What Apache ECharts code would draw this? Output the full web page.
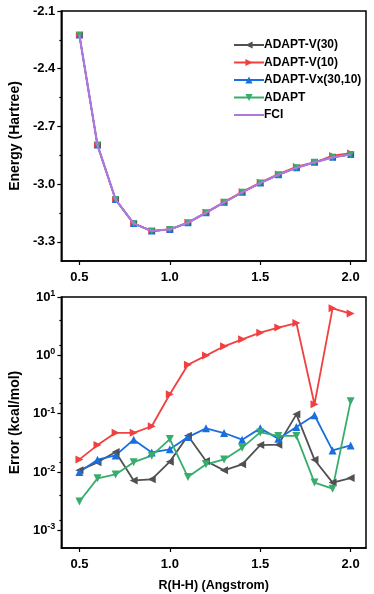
<!DOCTYPE html>
<html>
<head>
<meta charset="utf-8">
<script src="https://cdn.jsdelivr.net/npm/echarts@6.0.0/dist/echarts.min.js"></script>
<style>
html,body{margin:0;padding:0;background:#fff;}
#chart{width:374px;height:594px;}
</style>
</head>
<body>
<div id="chart"></div>
<script>
// ---- data ----
var distances = [0.5,0.6,0.7,0.8,0.9,1.0,1.1,1.2,1.3,1.4,1.5,1.6,1.7,1.8,1.9,2.0];
var seriesNames = ['ADAPT-V(30)','ADAPT-V(10)','ADAPT-Vx(30,10)','ADAPT','FCI'];

// energies (Hartree)
var energyV30  = [-2.225,-2.797,-3.080,-3.205,-3.244,-3.236,-3.201,-3.149,-3.095,-3.043,-2.995,-2.952,-2.915,-2.887,-2.861,-2.846];
var energyV10  = [-2.225,-2.797,-3.080,-3.205,-3.244,-3.236,-3.200,-3.147,-3.093,-3.040,-2.991,-2.947,-2.909,-2.887,-2.851,-2.838];
var energyVx   = [-2.225,-2.797,-3.080,-3.205,-3.244,-3.236,-3.201,-3.149,-3.095,-3.043,-2.995,-2.952,-2.915,-2.887,-2.861,-2.846];
var energyAdapt= [-2.225,-2.797,-3.080,-3.205,-3.244,-3.236,-3.201,-3.149,-3.095,-3.043,-2.995,-2.952,-2.915,-2.887,-2.861,-2.846];
var energyFCI  = [-2.225,-2.797,-3.080,-3.205,-3.244,-3.236,-3.201,-3.149,-3.095,-3.043,-2.995,-2.952,-2.915,-2.887,-2.861,-2.846];

// errors (kcal/mol)
var errorV30   = [0.0107,0.0147,0.022,0.0072,0.0075,0.0151,0.042,0.0155,0.0107,0.0136,0.029,0.0295,0.0975,0.0163,0.0066,0.0079];
var errorV10   = [0.0165,0.029,0.047,0.047,0.061,0.215,0.69,0.99,1.43,1.88,2.45,2.99,3.58,0.145,6.4,5.2];
var errorVx    = [0.010,0.0163,0.0193,0.0359,0.0217,0.0245,0.0398,0.0561,0.0467,0.0359,0.0561,0.0374,0.059,0.094,0.0235,0.0286];
var errorAdapt = [0.00314,0.0078,0.0091,0.0148,0.0191,0.0368,0.0082,0.0136,0.0165,0.0262,0.0478,0.0416,0.0416,0.0066,0.0052,0.163];

// ticks
var xTicks = [0.5,1.0,1.5,2.0];
var energyTicks = [-3.3,-3.0,-2.7,-2.4,-2.1];
var energyMinorTicks = [-3.15,-2.85,-2.55,-2.25];
var errorTicks = [0.001,0.01,0.1,1,10];
var errorMinorTicks = [0.0015,0.004,0.015,0.04,0.15,0.4,1.5,4];

// ---- styling ----
var colors = ['#515151','#F14040','#1A6FDF','#37AD6B','#B177DE'];
var rotations = [90,-90,0,180];
var FONT = 'Liberation Sans, Arial, sans-serif';

function pairs(ys){ return distances.map(function(x,i){ return [x, ys[i]]; }); }

var energies = [energyV30, energyV10, energyVx, energyAdapt];
var errors = [errorV30, errorV10, errorVx, errorAdapt];

var series = [];
for (var i = 0; i < 4; i++) {
  series.push({
    name: seriesNames[i], type: 'line', xAxisIndex: 0, yAxisIndex: 0,
    data: pairs(energies[i]), symbol: 'triangle', symbolSize: 7, symbolRotate: rotations[i],
    lineStyle: {color: colors[i], width: 1.5}, itemStyle: {color: colors[i]},
    z: 2, animation: false
  });
}
series.push({
  name: seriesNames[4], type: 'line', xAxisIndex: 0, yAxisIndex: 0,
  data: pairs(energyFCI), symbol: 'none', showSymbol: false,
  lineStyle: {color: colors[4], width: 2.2}, itemStyle: {color: colors[4]},
  z: 3, animation: false
});
for (var j = 0; j < 4; j++) {
  series.push({
    name: seriesNames[j], type: 'line', xAxisIndex: 1, yAxisIndex: 2,
    data: pairs(errors[j]), symbol: 'triangle', symbolSize: 8, symbolRotate: rotations[j],
    lineStyle: {color: colors[j], width: 1.8}, itemStyle: {color: colors[j]},
    z: 3, animation: false
  });
}

var tickLabel = {fontFamily: FONT, fontWeight: 'bold', fontSize: 13, color: '#000'};
var axisLine = {show: true, onZero: false, lineStyle: {color: '#000', width: 1.5}};

function xAxis(gridIndex, name) {
  return {
    type: 'value', gridIndex: gridIndex, min: 0.4, max: 2.085,
    axisLine: axisLine, splitLine: {show: false},
    axisTick: {show: true, inside: false, length: 4, customValues: xTicks, lineStyle: {color: '#000', width: 1.2}},
    axisLabel: Object.assign({margin: 10, customValues: xTicks, formatter: function(v){ return v.toFixed(1); }}, tickLabel),
    name: name, nameLocation: 'middle', nameGap: 31,
    nameTextStyle: {fontFamily: FONT, fontWeight: 'bold', fontSize: 12.5, color: '#000'}
  };
}

var supRich = {
  base: {fontFamily: FONT, fontWeight: 'bold', fontSize: 13, color: '#000'},
  sup: {fontFamily: FONT, fontWeight: 'bold', fontSize: 9, color: '#000', verticalAlign: 'top', padding: [0,0,7,0]}
};

var legendData = seriesNames.map(function(n, k){
  return k === 4 ? {name: n, itemStyle: {opacity: 0}} : {name: n};
});

var option = {
  backgroundColor: '#fff',
  animation: false,
  color: colors,
  grid: [
    {left: 51, top: 11, width: 315, height: 250, show: true, borderColor: '#000', borderWidth: 1.5, containLabel: false},
    {left: 51, top: 297, width: 315, height: 251, show: true, borderColor: '#000', borderWidth: 1.5, containLabel: false}
  ],
  legend: {
    data: legendData, orient: 'vertical', left: 228, top: 34,
    itemWidth: 30, itemHeight: 9, itemGap: 5.5,
    textStyle: {fontFamily: FONT, fontWeight: 'bold', fontSize: 12, color: '#000', padding: [0,0,0,-5]}
  },
  xAxis: [xAxis(0, ''), xAxis(1, 'R(H-H) (Angstrom)')],
  yAxis: [
    {
      type: 'value', gridIndex: 0, min: -3.4, max: -2.1, position: 'left',
      axisLine: axisLine, splitLine: {show: false},
      axisTick: {show: true, length: 4, customValues: energyTicks, lineStyle: {color: '#000', width: 1.2}},
      axisLabel: Object.assign({margin: 6, customValues: energyTicks, formatter: function(v){ return v.toFixed(1); }}, tickLabel),
      name: 'Energy (Hartree)', nameLocation: 'middle', nameGap: 37,
      nameTextStyle: {fontFamily: FONT, fontWeight: 'bold', fontSize: 14, color: '#000'}
    },
    {
      type: 'value', gridIndex: 0, min: -3.4, max: -2.1, position: 'left',
      axisLine: {show: false}, splitLine: {show: false}, axisLabel: {show: false},
      axisTick: {show: true, length: 2, customValues: energyMinorTicks, lineStyle: {color: '#000', width: 1.2}}
    },
    {
      type: 'log', logBase: 10, gridIndex: 1, min: 0.0005, max: 10, position: 'left',
      axisLine: axisLine, splitLine: {show: false},
      axisTick: {show: true, length: 4, customValues: errorTicks, lineStyle: {color: '#000', width: 1.2}},
      axisLabel: {
        margin: 6, customValues: errorTicks,
        formatter: function(v){ var e = Math.round(Math.log10(v)); return '{base|10}{sup|' + e + '}'; },
        rich: supRich
      },
      name: 'Error (kcal/mol)', nameLocation: 'middle', nameGap: 37,
      nameTextStyle: {fontFamily: FONT, fontWeight: 'bold', fontSize: 14, color: '#000'}
    },
    {
      type: 'log', logBase: 10, gridIndex: 1, min: 0.0005, max: 10, position: 'left',
      axisLine: {show: false}, splitLine: {show: false}, axisLabel: {show: false},
      axisTick: {show: true, length: 2, customValues: errorMinorTicks, lineStyle: {color: '#000', width: 1.2}}
    }
  ],
  series: series
};

var chart = echarts.init(document.getElementById('chart'), null, {renderer: 'canvas'});
chart.setOption(option);
</script>
</body>
</html>
